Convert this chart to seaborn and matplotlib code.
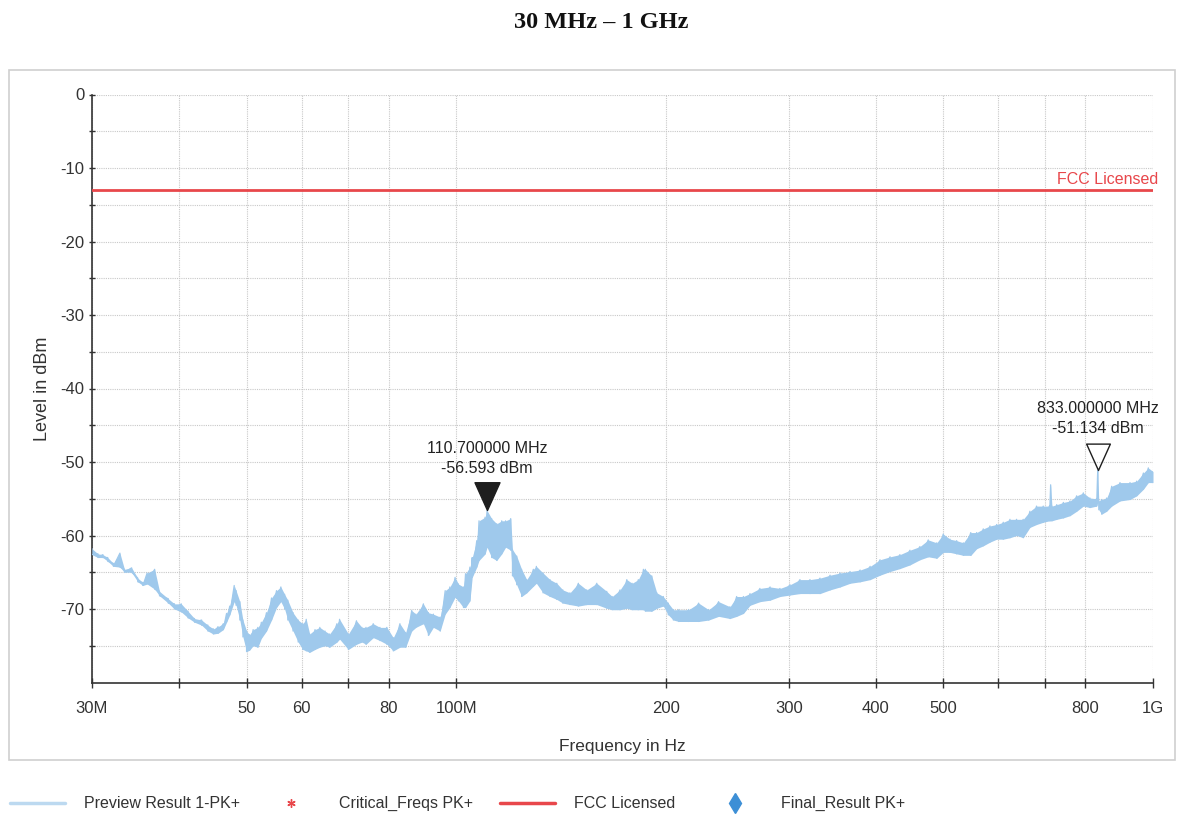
import numpy as np
import pandas as pd
import seaborn as sns
import matplotlib.pyplot as plt
from matplotlib.lines import Line2D
from matplotlib.patches import Rectangle
from matplotlib.path import Path

# Spectrum 30 MHz - 1 GHz.
# Each frequency has an upper and lower edge of the (noisy) peak trace, in dBm.
freq_mhz = [
    30.0, 30.6, 31.1, 31.6, 32.2, 32.9, 33.4, 34.2, 34.9, 35.5, 36.0, 36.9, 37.5,
    38.6, 39.4, 40.3, 41.2, 42.1, 43.1, 44.0, 44.8, 45.5, 46.3, 46.8, 47.3, 48.0,
    48.3, 48.9, 49.4, 50.0, 50.5, 51.1, 51.9, 52.5, 53.4, 54.3, 55.2, 56.0, 56.7,
    57.3, 58.3, 59.3, 60.2, 60.9, 61.6, 62.7, 63.7, 64.8, 65.8, 67.4, 68.0, 70.0,
    71.9, 73.2, 74.2, 76.0, 77.7, 79.5, 81.2, 83.0, 84.6, 86.3, 87.5, 89.7, 91.2,
    92.7, 94.8, 96.4, 97.9, 99.6, 100.7, 102.4, 103.1, 104.6, 105.4, 107.0, 107.8,
    110.0, 110.7, 112.4, 114.3, 116.2, 117.7, 119.7, 120.4, 122.1, 124.1, 126.2,
    129.0, 130.3, 133.2, 136.3, 139.4, 142.2, 145.6, 149.7, 153.9, 159.1, 164.4,
    167.4, 171.8, 175.7, 178.8, 182.5, 185.6, 186.8, 190.8, 194.0, 198.2, 201.5,
    204.9, 208.6, 215.5, 222.8, 230.3, 238.0, 247.1, 252.6, 258.3, 264.0, 272.8,
    282.1, 291.5, 301.3, 311.4, 321.9, 332.7, 344.0, 355.6, 367.5, 379.9, 392.7,
    405.7, 419.4, 433.3, 447.9, 462.9, 475.8, 489.4, 500.0, 511.3, 522.7, 534.3,
    547.6, 558.3, 570.7, 583.5, 596.6, 609.7, 623.3, 637.1, 651.2, 665.8, 680.6,
    695.8, 710.0, 713.0, 716.0, 727.6, 743.7, 760.2, 777.0, 794.4, 811.9, 830.0,
    833.0, 836.0, 843.9, 857.9, 872.4, 896.8, 927.0, 947.6, 968.8, 984.6, 1000.0,
]
level_hi = [
    -61.8, -62.5, -62.6, -63.0, -63.8, -62.4, -64.6, -64.4, -65.8, -66.4, -65.1, -64.6, -67.6,
    -68.6, -69.3, -69.3, -70.3, -71.3, -71.5, -72.2, -72.7, -72.4, -72.0, -70.6, -69.6, -66.8,
    -67.5, -69.0, -71.5, -73.0, -73.5, -72.8, -72.5, -71.8, -70.5, -68.5, -67.5, -67.0, -68.0,
    -68.8, -70.5, -71.5, -72.0, -71.4, -73.4, -72.8, -72.5, -73.0, -73.4, -72.0, -71.4, -73.4,
    -71.6, -72.5, -72.5, -72.0, -72.5, -72.5, -73.9, -72.0, -73.2, -70.2, -70.7, -69.3, -70.5,
    -70.7, -71.1, -67.5, -67.0, -65.7, -66.6, -67.0, -65.2, -64.3, -63.0, -60.7, -58.0,
    -57.5, -56.6, -57.7, -58.4, -58.0, -58.0, -57.7, -61.9, -62.8, -64.6, -66.0,
    -64.6, -64.2, -65.1, -66.0, -66.5, -67.4, -67.8, -66.5, -67.4, -66.5, -67.6,
    -68.3, -67.4, -66.0, -66.5, -66.0, -64.6, -64.6, -65.5, -67.8, -68.3, -69.2,
    -70.1, -70.1, -70.1, -69.2, -70.1, -69.0, -69.7, -68.3, -68.3, -67.9, -67.2,
    -67.0, -67.2, -66.7, -66.0, -66.0, -65.8, -65.4, -65.1, -64.9, -64.7, -64.2,
    -63.3, -62.9, -62.6, -62.0, -61.5, -60.6, -61.0, -59.8, -60.5, -60.7, -61.0,
    -59.6, -59.6, -59.1, -58.7, -58.5, -58.2, -57.8, -57.8, -57.8, -56.7, -56.0,
    -56.0, -56.0, -53.1, -56.0, -55.8, -55.5, -55.3, -54.6, -54.2, -54.9, -55.0,
    -51.1, -55.3, -55.1, -54.9, -53.3, -52.8, -52.8, -52.6, -51.5, -50.8, -51.3,
]
level_lo = [
    -62.6, -63.0, -63.0, -63.5, -64.2, -64.3, -65.0, -65.0, -66.3, -66.8, -66.6, -67.3, -68.2,
    -69.2, -70.0, -70.4, -71.2, -71.8, -72.2, -73.0, -73.4, -73.3, -72.8, -71.8, -70.8, -69.0,
    -69.5, -71.5, -73.8, -75.8, -75.6, -75.0, -75.2, -74.0, -73.0, -71.5, -69.8, -69.0, -70.0,
    -71.5, -73.0, -74.5, -75.5, -75.7, -75.9, -75.5, -75.2, -75.0, -75.2, -74.5, -74.1, -75.5,
    -74.8, -74.5, -74.8, -73.9, -74.3, -74.8, -75.7, -75.2, -75.2, -73.0, -72.5, -72.0, -73.6,
    -72.5, -73.0, -70.7, -69.8, -68.4, -68.9, -69.8, -69.8, -68.9, -65.7, -64.3, -63.4,
    -62.5, -61.6, -63.0, -63.4, -62.5, -61.6, -62.0, -65.5, -66.7, -68.3, -67.8,
    -66.9, -66.5, -67.8, -68.3, -68.7, -69.2, -69.4, -69.6, -69.4, -69.4, -69.9,
    -70.1, -70.1, -69.9, -70.1, -70.1, -70.1, -70.3, -70.3, -69.9, -69.6, -70.8,
    -71.5, -71.7, -71.7, -71.7, -71.5, -71.0, -71.3, -71.0, -70.6, -69.5, -69.0,
    -68.8, -68.3, -68.1, -67.9, -67.9, -67.9, -67.4, -67.0, -66.5, -66.3, -66.0,
    -65.4, -64.9, -64.5, -64.0, -63.3, -62.9, -63.1, -62.3, -62.3, -62.5, -62.7,
    -62.7, -61.8, -61.4, -60.9, -60.5, -60.5, -60.3, -60.0, -60.3, -58.9, -58.5,
    -58.2, -58.0, -58.0, -58.0, -57.8, -57.6, -57.3, -56.7, -56.0, -56.2, -56.0,
    -55.5, -56.5, -57.1, -56.7, -56.0, -55.3, -55.1, -54.6, -53.7, -52.8, -52.8,
]

fcc_limit = -13.0
marker_freq_mhz = [110.7, 833.0]
marker_level = [-56.593, -51.134]

x_ticks_mhz = [30, 40, 50, 60, 70, 80, 100, 200, 300, 400, 500, 600, 700, 800, 1000]
x_tick_labels = ['30M', '', '50', '60', '', '80', '100M', '200', '300', '400', '500', '', '', '800', '1G']
y_ticks = list(range(0, -80, -5))

trace_color = '#9fc9ec'
fcc_color = '#e8474b'
text_color = '#333333'

sns.set_theme(style='white')
plt.rcParams['font.family'] = ['Liberation Sans', 'DejaVu Sans']
plt.rcParams['axes.unicode_minus'] = False

fig = plt.figure(figsize=(11.77, 8.16), dpi=100)
W, H = 1177, 816
ax = fig.add_axes([92 / W, 1 - 682.5 / H, 1061 / W, 588 / H])

# outer frame around the plot area
fig.add_artist(Rectangle((9 / W, 1 - 760 / H), 1166 / W, 690 / H, transform=fig.transFigure,
                         fill=False, edgecolor='#cfcfcf', lw=1.2))

# trace: band between upper/lower edges plus zigzag to give the noisy look
freq_hz = np.array(freq_mhz) * 1e6
ax.fill_between(freq_hz, level_lo, level_hi, color=trace_color, lw=0, zorder=2)
trace = pd.DataFrame({
    'freq': np.repeat(freq_hz, 2),
    'level': np.column_stack([level_hi, level_lo]).ravel(),
})
sns.lineplot(data=trace, x='freq', y='level', sort=False, estimator=None,
             color=trace_color, lw=0.9, ax=ax, zorder=3)

# FCC limit line
ax.axhline(fcc_limit, color=fcc_color, lw=2, zorder=4)
ax.text((1158 - 92) / 1061, fcc_limit + 0.4, 'FCC Licensed', transform=ax.get_yaxis_transform(),
        color=fcc_color, fontsize=11.5, ha='right', va='bottom')

# peak markers (tip of the triangle sits on the measured value)
tri = Path([(-0.45, 1.0), (0.45, 1.0), (0.0, 0.0), (-0.45, 1.0)],
           [Path.MOVETO, Path.LINETO, Path.LINETO, Path.CLOSEPOLY])
ax.plot(marker_freq_mhz[0] * 1e6, marker_level[0], marker=tri, ms=40, color='#1e1e1e',
        mec='#1e1e1e', mew=1, ls='none', zorder=6)
ax.plot(marker_freq_mhz[1] * 1e6, marker_level[1], marker=tri, ms=38, mfc='none',
        mec='#1e1e1e', mew=1, ls='none', zorder=6)
for f, lv in zip(marker_freq_mhz, marker_level):
    ax.annotate('{:.6f} MHz\n{:.3f} dBm'.format(f, lv), xy=(f * 1e6, lv),
                xytext=(0, 52), textcoords='offset pixels', ha='center', va='center',
                multialignment='center', fontsize=11.5, linespacing=1.45,
                color='#222222', zorder=7)

# axes, ticks, grid
ax.set_xscale('log')
ax.set_xlim(30e6, 1e9)
ax.set_ylim(-80, 0)
ax.set_xticks([t * 1e6 for t in x_ticks_mhz])
ax.set_xticklabels(x_tick_labels)
ax.xaxis.set_minor_locator(plt.NullLocator())
ax.set_yticks(y_ticks)
ax.set_yticklabels([str(v) if v % 10 == 0 else '' for v in y_ticks])
ax.tick_params(axis='x', direction='inout', length=7, width=1, pad=10, labelsize=12,
               colors=text_color, bottom=True)
ax.tick_params(axis='y', direction='inout', length=5, width=1, pad=3, labelsize=12,
               colors=text_color, left=True)
ax.grid(True, color='#c8c8c8', ls=(0, (1, 1)), lw=0.8)
for side in ['top', 'right']:
    ax.spines[side].set_visible(False)
for side in ['left', 'bottom']:
    ax.spines[side].set_color(text_color)
    ax.spines[side].set_linewidth(1.2)

ax.set_xlabel('Frequency in Hz', fontsize=12.5, color=text_color)
ax.set_ylabel('Level in dBm', fontsize=13, color=text_color)
ax.xaxis.set_label_coords(0.5, -(739 - 682.5) / 588)
ax.yaxis.set_label_coords(-(92 - 51) / 1061, 0.5)

fig.text(601 / W, 1 - 22 / H, '30 MHz \u2013 1 GHz', family='Liberation Serif', weight='bold',
         fontsize=17.5, ha='center', va='center', color='#111111')

# legend row under the frame
ly = 1 - 803 / H
fig.add_artist(Line2D([10 / W, 65 / W], [ly, ly], transform=fig.transFigure, color='#bcd9f0', lw=2.5))
fig.add_artist(Line2D([291 / W], [ly], transform=fig.transFigure, marker=(6, 2, 0), ms=6,
                      mew=1, color=fcc_color, ls='none'))
fig.add_artist(Line2D([500 / W, 555 / W], [ly, ly], transform=fig.transFigure, color=fcc_color, lw=2.5))
fig.add_artist(Line2D([735 / W], [ly], transform=fig.transFigure, marker='d', ms=10,
                      color='#3d8fd6', ls='none'))
for x, label in [(84, 'Preview Result 1-PK+'), (339, 'Critical_Freqs PK+'),
                 (574, 'FCC Licensed'), (781, 'Final_Result PK+')]:
    fig.text(x / W, ly, label, fontsize=11.5, ha='left', va='center', color=text_color)

fig.savefig('out.png', dpi=100)
